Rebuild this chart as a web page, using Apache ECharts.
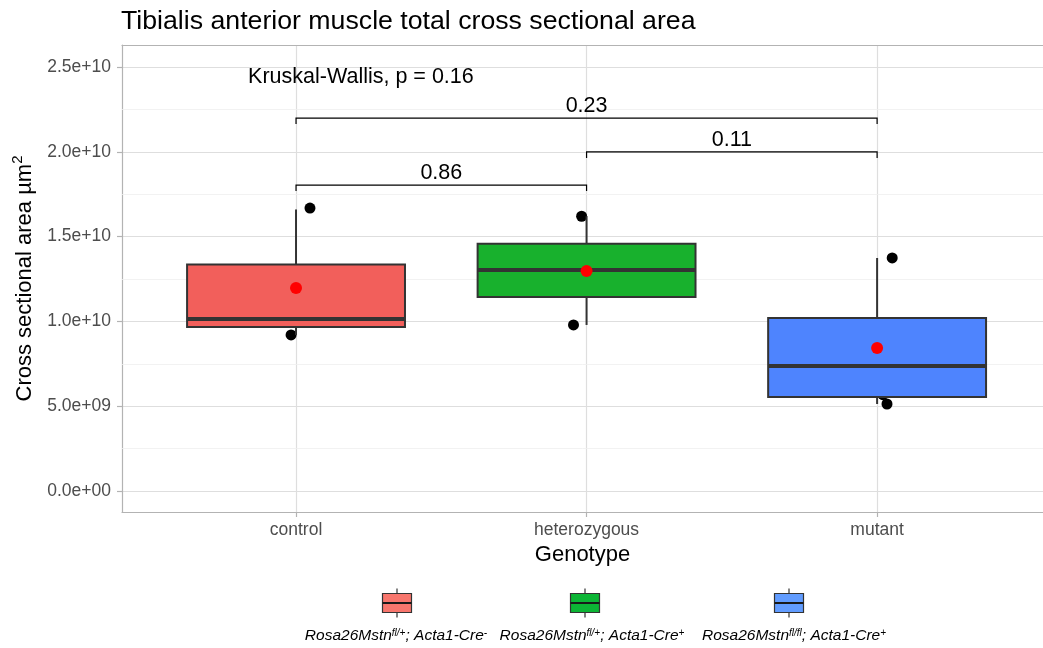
<!DOCTYPE html>
<html>
<head>
<meta charset="utf-8">
<script src="https://cdn.jsdelivr.net/npm/echarts@6/dist/echarts.min.js"></script>
<style>
html,body{margin:0;padding:0;background:#fff;}
#chart{width:1043px;height:648px;}
</style>
</head>
<body>
<div id="chart"></div>
<script>
// ---------- data ----------
const categories = ['control', 'heterozygous', 'mutant'];
const boxLow    = [0.920e10, 0.979e10, 0.513e10];
const boxQ1     = [0.967e10, 1.144e10, 0.554e10];
const boxMedian = [1.014e10, 1.303e10, 0.737e10];
const boxQ3     = [1.335e10, 1.458e10, 1.020e10];
const boxHigh   = [1.660e10, 1.620e10, 1.374e10];
const meanValues = [1.197e10, 1.297e10, 0.843e10];

// jittered observations (x position on the category scale, value)
const pointX = [1.048, 0.983, 1.020, 1.983, 1.955, 2.000, 3.052, 3.034, 3.020, 2.970];
const pointY = [1.668e10, 0.920e10, 1.014e10, 1.620e10, 0.979e10, 1.303e10, 1.374e10, 0.513e10, 0.568e10, 0.906e10];

// pairwise comparison brackets
const bracketFrom   = [1, 2, 1];
const bracketTo     = [2, 3, 3];
const bracketY      = [1.804e10, 1.999e10, 2.199e10];
const bracketLabels = ['0.86', '0.11', '0.23'];

const kwLabel = 'Kruskal-Wallis, p = 0.16';
const kwX = 0.835;
const kwY = 2.441e10;

const yTicks = [0, 5e9, 1e10, 1.5e10, 2e10, 2.5e10];
const yMinor = [2.5e9, 7.5e9, 1.25e10, 1.75e10, 2.25e10];
const xTicks = [1, 2, 3];

const boxColors    = ['#F25F5B', '#18B12D', '#4E84FE'];
const legendColors = ['#F8766D', '#0CB535', '#619CFF'];
const legendMain   = ['Rosa26Mstn', 'Rosa26Mstn', 'Rosa26Mstn'];
const legendSup1   = ['fl/+', 'fl/+', 'fl/fl'];
const legendMid    = ['; Acta1-Cre', '; Acta1-Cre', '; Acta1-Cre'];
const legendSup2   = ['-', '+', '+'];

// ---------- helpers ----------
function sci(v) {
  if (Math.abs(v) < 1e-6) return '0.0e+00';
  const e = Math.floor(Math.log10(Math.abs(v)) + 1e-9);
  const m = v / Math.pow(10, e);
  return m.toFixed(1) + 'e' + (e < 0 ? '-' : '+') + String(Math.abs(e)).padStart(2, '0');
}

const FONT = '"Liberation Sans", Arial, Helvetica, sans-serif';
const X_MIN = 0.401, X_MAX = 3.571;
const Y_MIN = -1.238e9, Y_MAX = 2.6297e10;

const boxData = categories.map((c, i) => [i + 1, boxLow[i], boxQ1[i], boxMedian[i], boxQ3[i], boxHigh[i]]);
const meanData = meanValues.map((v, i) => [i + 1, v]);
const pointData = pointX.map((x, i) => [x, pointY[i]]);
const bracketData = bracketLabels.map((l, i) => [bracketFrom[i], bracketTo[i], bracketY[i], l]);

// legend graphic
const legendKeyX = [397, 585, 789];
const legendLabelX = [396, 592, 794];
const legendGraphics = [];
categories.forEach((c, i) => {
  const cx = legendKeyX[i], cy = 603, w = 29, h = 19;
  legendGraphics.push({
    type: 'line', shape: {x1: cx, y1: cy - h / 2 - 5, x2: cx, y2: cy + h / 2 + 5},
    style: {stroke: '#333333', lineWidth: 1.2}, z: 1
  });
  legendGraphics.push({
    type: 'rect', shape: {x: cx - w / 2, y: cy - h / 2, width: w, height: h},
    style: {fill: legendColors[i], stroke: '#333333', lineWidth: 1.2}, z: 2
  });
  legendGraphics.push({
    type: 'line', shape: {x1: cx - w / 2, y1: cy, x2: cx + w / 2, y2: cy},
    style: {stroke: '#1a1a1a', lineWidth: 2}, z: 3
  });
  legendGraphics.push({
    type: 'text', x: legendLabelX[i], y: 636, z: 3,
    style: {
      text: '{a|' + legendMain[i] + '}{s|' + legendSup1[i] + '}{a|' + legendMid[i] + '}{s|' + legendSup2[i] + '}',
      align: 'center', verticalAlign: 'middle',
      rich: {
        a: {fontFamily: FONT, fontStyle: 'italic', fontSize: 15.5, fill: '#000', lineHeight: 16, verticalAlign: 'bottom'},
        s: {fontFamily: FONT, fontStyle: 'italic', fontSize: 10, fill: '#000', lineHeight: 16, verticalAlign: 'top'}
      }
    }
  });
});

const chart = echarts.init(document.getElementById('chart'), null, {renderer: 'canvas'});
const option = {
  backgroundColor: '#ffffff',
  animation: false,
  title: {
    text: 'Tibialis anterior muscle total cross sectional area',
    left: 121, top: 8, padding: 0,
    textStyle: {fontFamily: FONT, fontSize: 26.7, fontWeight: 'normal', color: '#000'}
  },
  grid: {
    left: 122, top: 45, right: 0, height: 467,
    show: false, containLabel: false
  },
  xAxis: [{
    type: 'value', min: X_MIN, max: X_MAX, splitNumber: 3,
    name: 'Genotype', nameLocation: 'middle', nameGap: 29,
    nameTextStyle: {fontFamily: FONT, fontSize: 22, color: '#000'},
    axisLine: {show: true, onZero: false, lineStyle: {color: '#B3B3B3', width: 1.2}},
    axisTick: {show: true, customValues: xTicks, length: 5, lineStyle: {color: '#B3B3B3', width: 1.2}},
    axisLabel: {
      customValues: xTicks, margin: 9,
      fontFamily: FONT, fontSize: 17.5, color: '#4D4D4D',
      formatter: v => categories[Math.round(v) - 1] || ''
    },
    splitLine: {show: true, lineStyle: {color: '#DEDEDE', width: 1.2}},
    minorSplitLine: {show: false}
  }, {
    type: 'value', position: 'top', min: X_MIN, max: X_MAX,
    axisLine: {show: true, onZero: false, lineStyle: {color: '#B3B3B3', width: 1.2}},
    axisTick: {show: false}, axisLabel: {show: false}, splitLine: {show: false}
  }],
  yAxis: {
    type: 'value', min: Y_MIN, max: Y_MAX, splitNumber: 5,
    name: '{a|Cross sectional area µm}{s|2}', nameLocation: 'middle', nameGap: 84,
    nameTextStyle: {
      fontFamily: FONT, fontSize: 22, color: '#000',
      rich: {
        a: {fontFamily: FONT, fontSize: 22, color: '#000', lineHeight: 26, verticalAlign: 'bottom'},
        s: {fontFamily: FONT, fontSize: 15, color: '#000', lineHeight: 26, verticalAlign: 'top'}
      }
    },
    axisLine: {show: true, onZero: false, lineStyle: {color: '#B3B3B3', width: 1.2}},
    axisTick: {show: true, customValues: yTicks, length: 5, lineStyle: {color: '#B3B3B3', width: 1.2}},
    axisLabel: {
      customValues: yTicks, margin: 11,
      fontFamily: FONT, fontSize: 17.5, color: '#4D4D4D',
      formatter: v => sci(v)
    },
    splitLine: {show: true, lineStyle: {color: '#DEDEDE', width: 1.2}},
    minorSplitLine: {show: false}
  },
  graphic: legendGraphics,
  series: [
    {
      type: 'scatter', name: 'points', data: pointData, z: 2,
      symbol: 'circle', symbolSize: 11, itemStyle: {color: '#000000', opacity: 1},
      silent: true,
      markLine: {
        silent: true, symbol: ['none', 'none'], label: {show: false}, z: 1,
        lineStyle: {color: '#EFEFEF', width: 0.8, type: 'solid'},
        emphasis: {disabled: true},
        data: yMinor.map(v => ({yAxis: v}))
      }
    },
    {
      type: 'custom', name: 'boxes', data: boxData, z: 3, clip: false,
      encode: {x: 0, y: [1, 2, 3, 4, 5]},
      renderItem: function (params, api) {
        const i = params.dataIndex;
        const x = api.value(0);
        const halfW = api.size([0.75, 0])[0] / 2;
        const pLow = api.coord([x, api.value(1)]);
        const pQ1 = api.coord([x, api.value(2)]);
        const pMed = api.coord([x, api.value(3)]);
        const pQ3 = api.coord([x, api.value(4)]);
        const pHigh = api.coord([x, api.value(5)]);
        return {
          type: 'group',
          children: [
            {type: 'line', shape: {x1: pLow[0], y1: pLow[1], x2: pHigh[0], y2: pHigh[1]},
             style: {stroke: '#333333', lineWidth: 2}},
            {type: 'rect', shape: {x: pQ3[0] - halfW, y: pQ3[1], width: halfW * 2, height: pQ1[1] - pQ3[1]},
             style: {fill: boxColors[i], stroke: '#333333', lineWidth: 2}},
            {type: 'line', shape: {x1: pMed[0] - halfW, y1: pMed[1], x2: pMed[0] + halfW, y2: pMed[1]},
             style: {stroke: '#333333', lineWidth: 4}}
          ]
        };
      }
    },
    {
      type: 'scatter', name: 'mean', data: meanData, z: 4,
      symbol: 'circle', symbolSize: 12, itemStyle: {color: '#FF0000', opacity: 1},
      silent: true
    },
    {
      type: 'custom', name: 'brackets', data: bracketData, z: 5, clip: false,
      encode: {x: [0, 1], y: 2},
      renderItem: function (params, api) {
        const i = params.dataIndex;
        const a = api.coord([api.value(0), api.value(2)]);
        const b = api.coord([api.value(1), api.value(2)]);
        const tip = 6;
        return {
          type: 'group',
          children: [
            {type: 'polyline', shape: {points: [[a[0], a[1] + tip], [a[0], a[1]], [b[0], b[1]], [b[0], b[1] + tip]]},
             style: {stroke: '#000000', lineWidth: 1.2, fill: null}},
            {type: 'text', x: (a[0] + b[0]) / 2, y: a[1] - 12,
             style: {text: bracketLabels[i], fill: '#000', font: '21.5px ' + FONT,
                     align: 'center', verticalAlign: 'middle', textAlign: 'center', textVerticalAlign: 'middle'}}
          ]
        };
      }
    },
    {
      type: 'custom', name: 'kw', data: [[kwX, kwY]], z: 5, clip: false,
      encode: {x: 0, y: 1},
      renderItem: function (params, api) {
        const p = api.coord([api.value(0), api.value(1)]);
        return {
          type: 'text', x: p[0], y: p[1],
          style: {text: kwLabel, fill: '#000', font: '21.5px ' + FONT,
                  align: 'left', verticalAlign: 'middle', textAlign: 'left', textVerticalAlign: 'middle'}
        };
      }
    }
  ]
};
chart.setOption(option);
</script>
</body>
</html>
